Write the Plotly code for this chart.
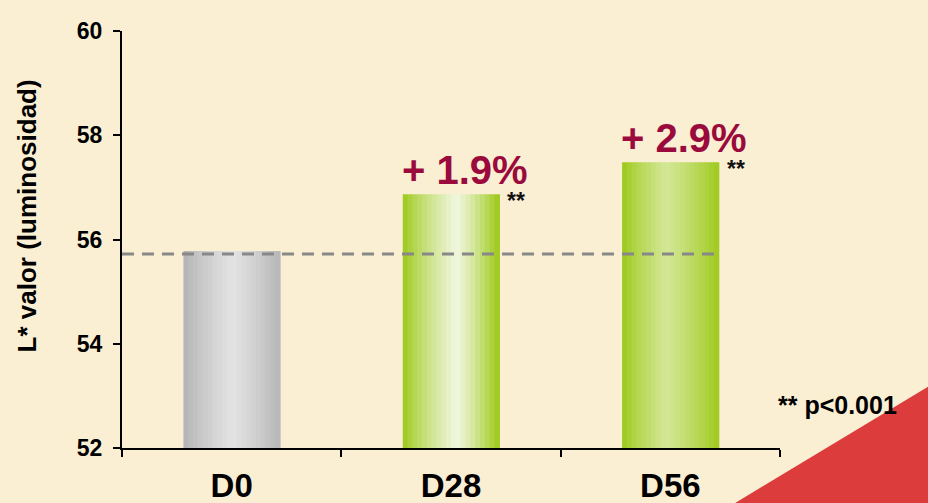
import plotly.graph_objects as go

# ---- data ----
categories = ["D0", "D28", "D56"]
values = [55.78, 56.87, 57.48]
baseline = 55.72
change_labels = ["", "+ 1.9%", "+ 2.9%"]
sig_labels = ["", "**", "**"]
y_ticks = [52, 54, 56, 58, 60]
y_title = "L* valor (luminosidad)"
footnote = "** p<0.001"

FONT = "Liberation Sans, Arial, sans-serif"
BG = "#FBEFD3"
BW = 0.44  # bar width in category units
N = 20     # gradient strips per bar


def hex2rgb(h):
    h = h.lstrip("#")
    return tuple(int(h[i:i + 2], 16) for i in (0, 2, 4))


def mix(c1, c2, t):
    a, b = hex2rgb(c1), hex2rgb(c2)
    return "rgb(%d,%d,%d)" % tuple(round(a[k] + (b[k] - a[k]) * t) for k in range(3))


# (left edge, peak, right edge, peak position)
profiles = [
    ("#B2B2B2", "#E3E3E3", "#B6B6B6", 0.50),
    ("#9AC814", "#F1F6DE", "#9CC816", 0.55),
    ("#9AC814", "#D3E796", "#9FCA1E", 0.45),
]


def strip_color(prof, t):
    l, p, r, pk = prof
    if t <= pk:
        return mix(l, p, (t / pk) ** 0.8)
    return mix(p, r, ((t - pk) / (1 - pk)) ** 1.2)


x_idx = list(range(len(categories)))
fig = go.Figure()

for i in range(N):
    t = (i + 0.5) / N
    fig.add_trace(go.Bar(
        x=x_idx, y=values, base=0,
        width=[BW / N * 1.15] * len(values),
        offset=[-BW / 2 + i * BW / N] * len(values),
        marker=dict(color=[strip_color(p, t) for p in profiles], line=dict(width=0)),
        showlegend=False, hoverinfo="skip",
    ))

# reference dashed line (baseline D0)
fig.add_trace(go.Scatter(
    x=[-0.5, x_idx[-1] + BW / 2], y=[baseline, baseline], mode="lines",
    line=dict(color="#888888", width=3, dash="12px,8px"),
    showlegend=False, hoverinfo="skip",
))

annotations = []
for i, (lab, sig) in enumerate(zip(change_labels, sig_labels)):
    if lab:
        annotations.append(dict(
            x=x_idx[i], y=values[i], xref="x", yref="y", text=lab, showarrow=False,
            xanchor="center", yanchor="bottom", xshift=14, yshift=0,
            font=dict(family=FONT, size=40, color="#9A0A3C", weight="bold"),
        ))
    if sig:
        annotations.append(dict(
            x=x_idx[i] + BW / 2, y=values[i], xref="x", yref="y", text=sig, showarrow=False,
            xanchor="left", yanchor="top", xshift=6, yshift=8,
            font=dict(family=FONT, size=23, color="#111111", weight="bold"),
        ))

annotations.append(dict(
    x=0.994, y=0.103, xref="paper", yref="paper", text=footnote, showarrow=False,
    xanchor="left", yanchor="middle",
    font=dict(family=FONT, size=25, color="#000000", weight="bold"),
))
annotations.append(dict(
    x=-0.144, y=0.556, xref="paper", yref="paper", text=y_title, showarrow=False,
    textangle=-90, xanchor="center", yanchor="middle",
    font=dict(family=FONT, size=26, color="#000000", weight="bold"),
))

fig.update_layout(
    width=928, height=503,
    margin=dict(l=122, r=148, t=31, b=55),
    paper_bgcolor=BG, plot_bgcolor=BG,
    barmode="overlay",
    annotations=annotations,
    shapes=[dict(
        type="path", xref="paper", yref="paper",
        path="M 0.9286 -0.135 L 1.226 0.148 L 1.226 -0.135 Z",
        fillcolor="#DD3C3C", line=dict(width=0), layer="below",
    )],
)

fig.update_xaxes(
    type="linear", range=[-0.5, 2.5], automargin=False,
    tickvals=x_idx, ticktext=categories, ticks="",
    minor=dict(tickvals=[-0.5, 0.5, 1.5, 2.5], ticks="outside", ticklen=7,
               tickwidth=2, tickcolor="#000000", showgrid=False),
    showline=True, linecolor="#000000", linewidth=2,
    showgrid=False, zeroline=False,
    tickfont=dict(family=FONT, size=33, color="#000000", weight="bold"),
    ticklabelstandoff=7,
)
fig.update_yaxes(
    range=[52, 60], tickvals=y_ticks, ticks="outside", ticklen=7, automargin=False,
    tickwidth=2, tickcolor="#000000",
    showline=True, linecolor="#000000", linewidth=2,
    showgrid=False, zeroline=False,
    tickfont=dict(family=FONT, size=23, color="#000000", weight="bold"),
    ticklabelstandoff=6,
)

fig.write_html(
    "out.html",
    config={"displayModeBar": False},
    post_script="document.body.style.margin='0';document.body.style.padding='0';"
                "document.documentElement.style.overflow='hidden';",
)
